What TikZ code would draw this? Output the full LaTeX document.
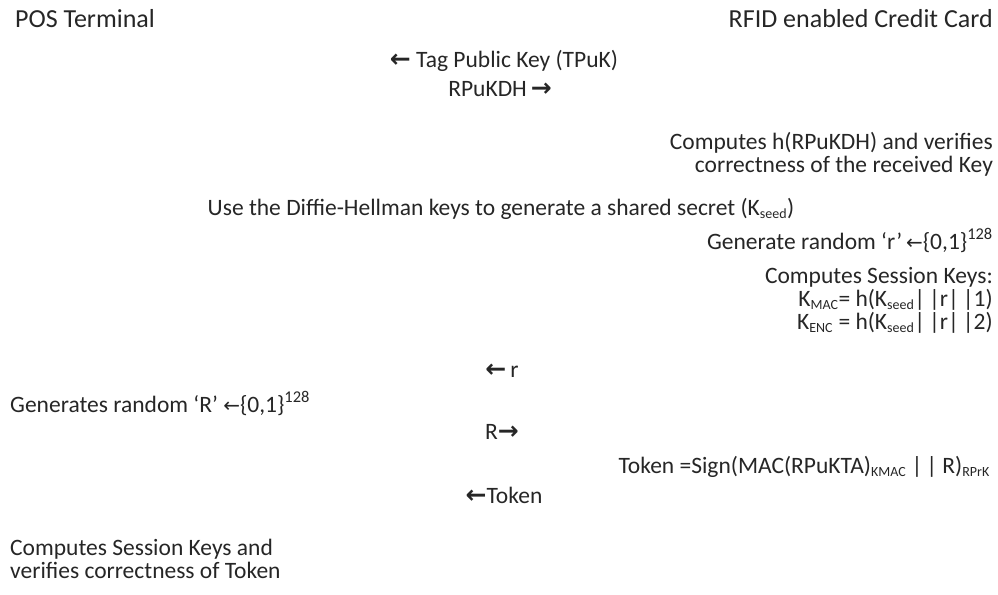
\documentclass[tikz,border=0pt]{standalone}
\usepackage{fontspec}
\setmainfont{Carlito}
\newfontfamily\arrowfont{DejaVu Sans}
\usetikzlibrary{positioning}

% message arrows (bold) and the thin "drawn from" arrow
\newcommand{\msgleft}{{\arrowfont\bfseries\fontsize{25}{24}\selectfont ←}}
\newcommand{\msgright}{{\arrowfont\bfseries\fontsize{25}{24}\selectfont →}}
\newcommand{\drawnfrom}{{\arrowfont\fontsize{20}{22}\selectfont ←}}
% small key indices
\newcommand{\idx}[1]{\textsubscript{\fontsize{14}{14}\selectfont #1}}

\begin{document}
\begin{tikzpicture}[x=1pt,y=-1pt,
    msg/.style={font=\fontsize{23.5}{23}\selectfont,inner sep=0,text=black!85},
    party/.style={msg,font=\fontsize{26}{28}\selectfont}
]
\useasboundingbox (0,0) rectangle (998,594);

% the two parties
\node[party,anchor=base west] (pos) at (15,28) {POS Terminal};
\node[party,anchor=base east] (card) at (993,28) {RFID enabled Credit Card};

% key exchange
\node[msg,anchor=base] (tpuk) at (504,67) {\msgleft\ Tag Public Key (TPuK)};
\node[msg,anchor=base] (rpukdh) at (500,96) {RPuKDH\,\msgright};
% multi-line nodes sit on the baseline of their last line
\node[msg,anchor=base east,align=right] (check) at (993,172)
    {Computes h(RPuKDH) and verifies\\correctness of the received Key};
\node[msg,anchor=base] (seed) at (501,215)
    {Use the Diffie-Hellman keys to generate a shared secret (K\idx{seed})};

% card side: nonce and session keys
\node[msg,anchor=base east] (nonce) at (993,249)
    {Generate random ‘r’\,\drawnfrom\{0,1\}\textsuperscript{128}};
\node[msg,anchor=base east,align=right] (keys) at (993,329)
    {Computes Session Keys:\\
     K\idx{MAC}= h(K\idx{seed}|\,|r|\,|1)\\
     K\idx{ENC} = h(K\idx{seed}|\,|r|\,|2)};

% nonce exchange
\node[msg,anchor=base] (rmsg) at (502,377) {\msgleft\,r};
\node[msg,anchor=base west] (bignonce) at (10,412)
    {Generates random ‘R’ \drawnfrom\{0,1\}\textsuperscript{128}};
\node[msg,anchor=base] (Rmsg) at (502,439) {R\msgright};

% token
\node[msg,anchor=base east] (token) at (990,473)
    {Token =Sign(MAC(RPuKTA)\idx{KMAC} |\,| R)\idx{RPrK}};
\node[msg,anchor=base] (tokmsg) at (504,503) {\msgleft Token};
\node[msg,anchor=base west,align=left] (final) at (10,578)
    {Computes Session Keys and\\verifies correctness of Token};

\end{tikzpicture}
\end{document}
